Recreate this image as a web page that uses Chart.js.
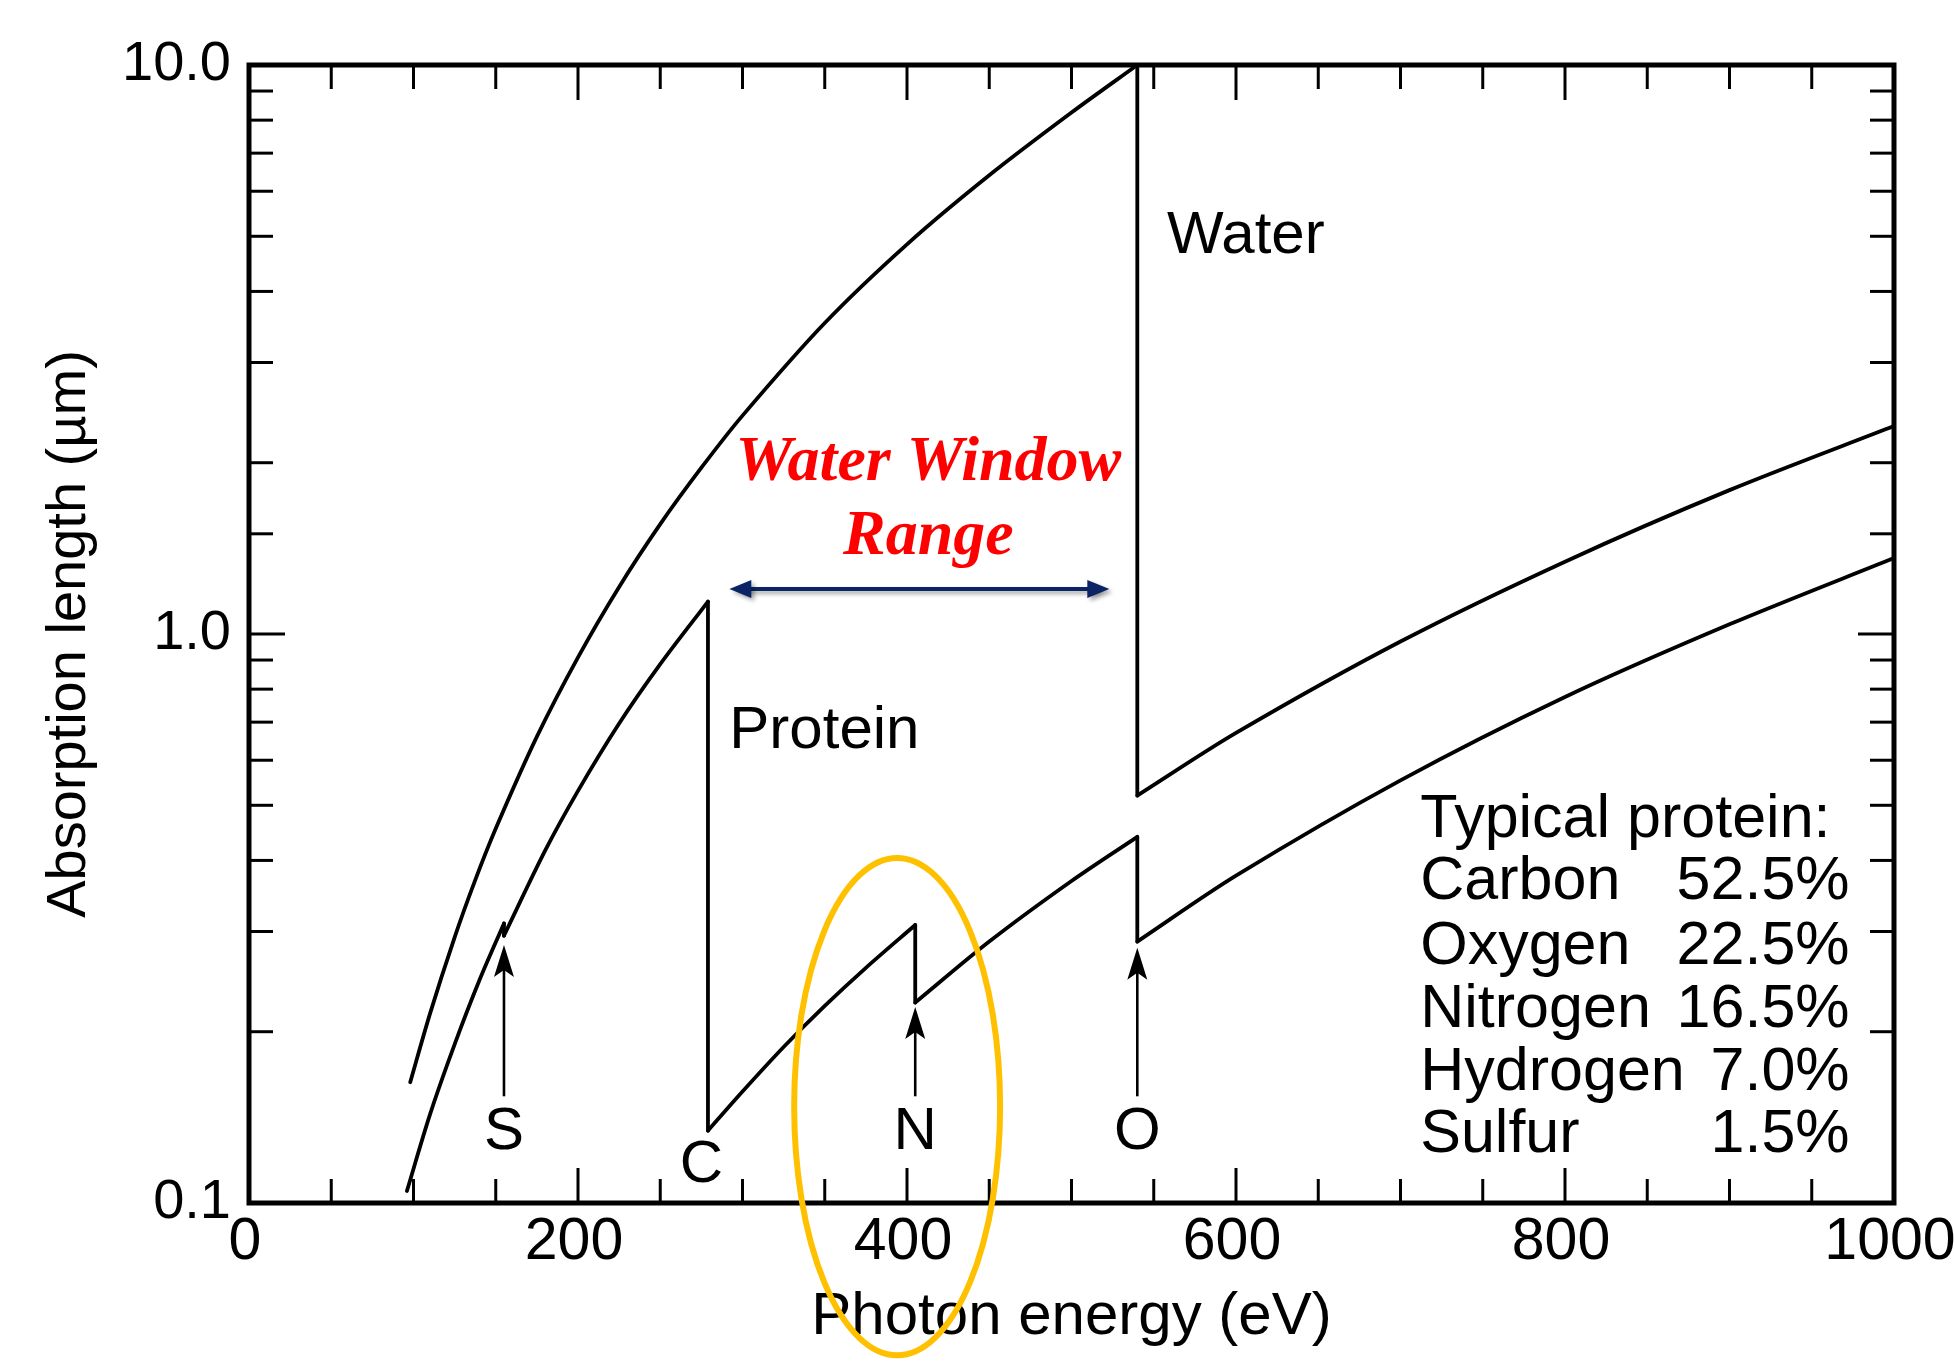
<!DOCTYPE html>
<html>
<head>
<meta charset="utf-8">
<style>html,body{margin:0;padding:0;background:#fff;overflow:hidden}canvas{display:block}</style>
<script src="https://cdn.jsdelivr.net/npm/chart.js@4/dist/chart.umd.min.js"></script>
</head>
<body>
<canvas id="c" width="1954" height="1361"></canvas>
<script>
// ---------------- data ----------------
const xAxisTitle = 'Photon energy (eV)';
const yAxisTitle = 'Absorption length (µm)';
const xTickLabels = ['0', '200', '400', '600', '800', '1000'];
const yTickLabels = ['0.1', '1.0', '10.0'];

// Water: absorption length (µm) vs photon energy (eV); repeated energy = absorption edge
const waterEnergy = [98, 110, 125, 137, 150, 175, 200, 225, 250, 275, 300, 350, 400, 450, 500, 540, 540, 600, 700, 800, 900, 1000];
const waterLength = [0.163, 0.215, 0.293, 0.366, 0.455, 0.66, 0.91, 1.21, 1.56, 1.96, 2.42, 3.52, 4.84, 6.4, 8.25, 10.0, 0.52, 0.67, 0.97, 1.34, 1.79, 2.32];

// Protein
const proteinEnergy = [96, 110, 125, 140, 155, 155, 180, 200, 225, 250, 279, 279, 300, 325, 350, 375, 405, 405, 450, 500, 540, 540, 600, 700, 800, 900, 1000];
const proteinLength = [0.105, 0.143, 0.19, 0.246, 0.31, 0.295, 0.416, 0.53, 0.696, 0.885, 1.14, 0.134, 0.157, 0.188, 0.222, 0.259, 0.308, 0.225, 0.288, 0.368, 0.44, 0.288, 0.376, 0.553, 0.775, 1.04, 1.36];

const seriesNames = ['Water', 'Protein'];
const edgeElements = ['S', 'C', 'N', 'O'];
const edgeEnergies = [155, 279, 405, 540];

const compositionTitle = 'Typical protein:';
const compositionNames = ['Carbon', 'Oxygen', 'Nitrogen', 'Hydrogen', 'Sulfur'];
const compositionPercents = ['52.5%', '22.5%', '16.5%', '7.0%', '1.5%'];

const windowLabel = ['Water Window', 'Range'];
const windowRange = [292, 523];   // eV span of the double arrow

// ---------------- layout / style (in data units, mapped through scales) ----------------
const SANS = '"Liberation Sans", Arial, Helvetica, sans-serif';
const SERIF = '"Liberation Serif", "Times New Roman", serif';
const layoutCfg = {
  seriesLabelPos: [[558, 5.0], [292, 0.675]],
  edgeLabelPos: [[155, 0.133], [275, 0.1163], [405, 0.133], [540, 0.133]],
  edgeArrowTip: [0.284, null, 0.221, 0.281],
  edgeArrowBase: 0.154,
  tableLeftE: 712, tableRightE: 973,
  tableRowY: [0.471, 0.366, 0.2815, 0.2178, 0.1693, 0.1316],
  windowTextE: 413, windowTextY: [1.866, 1.382], windowArrowY: 1.2,
  ellipse: { cE: 394, rE: 62.6, topV: 0.404, botV: 0.054 }
};

// ---------------- build datasets: split at absorption edges ----------------
function buildDatasets(E, V) {
  const out = [];
  let cur = [{x: E[0], y: V[0]}];
  for (let i = 1; i < E.length; i++) {
    if (E[i] === E[i - 1]) {
      out.push({pts: cur, curve: true});
      out.push({pts: [{x: E[i - 1], y: V[i - 1]}, {x: E[i], y: V[i]}], curve: false});
      cur = [];
    }
    cur.push({x: E[i], y: V[i]});
  }
  out.push({pts: cur, curve: true});
  return out.map(s => ({
    data: s.pts,
    borderColor: '#000',
    borderWidth: 3.8,
    borderCapStyle: 'round',
    borderJoinStyle: 'round',
    pointRadius: 0,
    fill: false,
    clip: 10,
    tension: s.curve ? 0.3 : 0
  }));
}
const datasets = [...buildDatasets(waterEnergy, waterLength), ...buildDatasets(proteinEnergy, proteinLength)];

// ---------------- plugins ----------------
const isDecade = v => Math.abs(Math.log10(v) - Math.round(Math.log10(v))) < 1e-6;

const framePlugin = {
  id: 'frame',
  afterDatasetsDraw(chart) {
    const {ctx, chartArea: a, scales: {x, y}} = chart;
    ctx.save();
    ctx.strokeStyle = '#000';
    ctx.lineCap = 'butt';
    ctx.lineWidth = 3;
    const seg = (x1, y1, x2, y2) => { ctx.beginPath(); ctx.moveTo(x1, y1); ctx.lineTo(x2, y2); ctx.stroke(); };
    x.ticks.forEach(t => {
      if (t.value <= x.min || t.value >= x.max) return;
      const px = x.getPixelForValue(t.value);
      const len = t.value % 200 === 0 ? 35 : 24;
      seg(px, a.bottom, px, a.bottom - len);
      seg(px, a.top, px, a.top + len);
    });
    y.ticks.forEach(t => {
      if (t.value <= y.min * 1.0001 || t.value >= y.max * 0.9999) return;
      const py = y.getPixelForValue(t.value);
      const len = isDecade(t.value) ? 36 : 24;
      seg(a.left, py, a.left + len, py);
      seg(a.right, py, a.right - len, py);
    });
    ctx.lineWidth = 5;
    ctx.lineJoin = 'miter';
    ctx.strokeRect(a.left, a.top, a.right - a.left, a.bottom - a.top);
    ctx.restore();
  }
};

const annotPlugin = {
  id: 'annot',
  afterDraw(chart) {
    const {ctx, scales: {x, y}} = chart;
    const L = layoutCfg;
    const X = v => x.getPixelForValue(v), Y = v => y.getPixelForValue(v);
    ctx.save();
    ctx.fillStyle = '#000';
    ctx.strokeStyle = '#000';
    ctx.font = '60px ' + SANS;
    ctx.textBaseline = 'middle';
    ctx.textAlign = 'left';
    // series labels
    seriesNames.forEach((n, i) => ctx.fillText(n, X(L.seriesLabelPos[i][0]), Y(L.seriesLabelPos[i][1])));
    // edge labels + arrows
    ctx.textAlign = 'center';
    edgeElements.forEach((el, i) => {
      ctx.fillText(el, X(L.edgeLabelPos[i][0]), Y(L.edgeLabelPos[i][1]));
      const tip = L.edgeArrowTip[i];
      if (tip == null) return;
      const px = X(edgeEnergies[i]), yt = Y(tip), yb = Y(L.edgeArrowBase);
      ctx.lineWidth = 2.6;
      ctx.beginPath(); ctx.moveTo(px, yb); ctx.lineTo(px, yt + 20); ctx.stroke();
      ctx.beginPath();
      ctx.moveTo(px, yt); ctx.lineTo(px - 10, yt + 32); ctx.lineTo(px, yt + 25); ctx.lineTo(px + 10, yt + 32);
      ctx.closePath(); ctx.fill();
    });
    // composition table
    ctx.font = '61px ' + SANS;
    ctx.textAlign = 'left';
    ctx.fillText(compositionTitle, X(L.tableLeftE), Y(L.tableRowY[0]));
    compositionNames.forEach((n, i) => {
      ctx.textAlign = 'left';
      ctx.fillText(n, X(L.tableLeftE), Y(L.tableRowY[i + 1]));
      ctx.textAlign = 'right';
      ctx.fillText(compositionPercents[i], X(L.tableRightE), Y(L.tableRowY[i + 1]));
    });
    // water window label
    ctx.fillStyle = '#FF0000';
    ctx.font = 'italic bold 64px ' + SERIF;
    ctx.textAlign = 'center';
    ctx.textBaseline = 'alphabetic';
    windowLabel.forEach((t, i) => ctx.fillText(t, X(L.windowTextE), Y(L.windowTextY[i])));
    // double arrow
    const ax1 = X(windowRange[0]), ax2 = X(windowRange[1]), ay = Y(L.windowArrowY);
    ctx.shadowColor = 'rgba(0,0,0,0.35)';
    ctx.shadowBlur = 4; ctx.shadowOffsetX = 3; ctx.shadowOffsetY = 3;
    ctx.strokeStyle = '#0B2466'; ctx.fillStyle = '#0B2466';
    ctx.lineWidth = 4;
    ctx.beginPath(); ctx.moveTo(ax1 + 12, ay); ctx.lineTo(ax2 - 12, ay); ctx.stroke();
    ctx.beginPath(); ctx.moveTo(ax1, ay); ctx.lineTo(ax1 + 22, ay - 9); ctx.lineTo(ax1 + 22, ay + 9); ctx.closePath(); ctx.fill();
    ctx.beginPath(); ctx.moveTo(ax2, ay); ctx.lineTo(ax2 - 22, ay - 9); ctx.lineTo(ax2 - 22, ay + 9); ctx.closePath(); ctx.fill();
    ctx.shadowColor = 'transparent';
    // highlight ellipse
    const e = L.ellipse;
    const cx = X(e.cE), rx = X(e.cE + e.rE) - cx;
    const top = Y(e.topV), bot = Y(e.botV);
    ctx.strokeStyle = '#FFC000';
    ctx.lineWidth = 6;
    ctx.beginPath();
    ctx.ellipse(cx, (top + bot) / 2, rx, (bot - top) / 2, 0, 0, Math.PI * 2);
    ctx.stroke();
    ctx.restore();
  }
};

// ---------------- chart ----------------
new Chart(document.getElementById('c').getContext('2d'), {
  type: 'line',
  data: { datasets },
  options: {
    responsive: false,
    animation: false,
    devicePixelRatio: 1,
    events: [],
    layout: { padding: { top: 65, right: 60, left: 0, bottom: 0 } },
    plugins: { legend: { display: false }, tooltip: { enabled: false } },
    scales: {
      x: {
        type: 'linear', position: 'bottom', min: 0, max: 1000,
        grid: { display: false, drawTicks: false, tickLength: 0 },
        border: { display: false },
        ticks: {
          stepSize: 50, autoSkip: false, maxRotation: 0, padding: 4, labelOffset: -4, color: '#000',
          font: { family: SANS, size: 59 },
          callback: v => (v % 200 === 0 ? xTickLabels[v / 200] : '')
        },
        title: { display: true, text: xAxisTitle, color: '#000', font: { family: SANS, size: 60 }, padding: { top: 0, bottom: 8 } },
        afterFit: s => { s.height = 158; s.paddingLeft = 0; s.paddingRight = 0; }
      },
      y: {
        type: 'logarithmic', position: 'left', min: 0.1, max: 10,
        grid: { display: false, drawTicks: false, tickLength: 0 },
        border: { display: false },
        ticks: {
          autoSkip: false, padding: 18, color: '#000',
          font: { family: SANS, size: 56 },
          callback: v => (isDecade(v) ? yTickLabels[Math.round(Math.log10(v)) + 1] : '')
        },
        title: { display: true, text: yAxisTitle, color: '#000', font: { family: SANS, size: 56 }, padding: { top: 36, bottom: 0 } },
        afterFit: s => { s.width = 249; s.paddingTop = 0; s.paddingBottom = 0; }
      }
    }
  },
  plugins: [framePlugin, annotPlugin]
});
</script>
</body>
</html>
